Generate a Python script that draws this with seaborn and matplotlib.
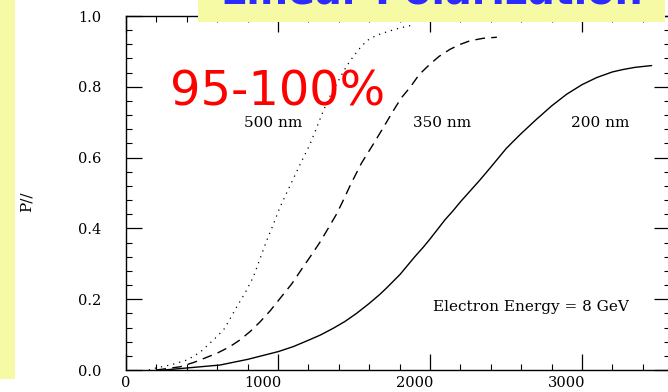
import numpy as np
import pandas as pd
import matplotlib
matplotlib.use("Agg")
import matplotlib.pyplot as plt
import matplotlib.transforms as mtransforms
from matplotlib.patches import Rectangle
import seaborn as sns

# ---- data ----
x_500 = [150, 191, 300, 399, 450, 500, 597, 650, 728, 780, 838, 926, 970, 1013, 1085, 1150, 1211, 1250,
         1298, 1340, 1386, 1430, 1474, 1530, 1583, 1650, 1737, 1800, 1890]
y_500 = [0.0, 0.005, 0.015, 0.028, 0.04, 0.055, 0.094, 0.118, 0.178, 0.215, 0.263, 0.366, 0.412, 0.46, 0.526,
         0.585, 0.638, 0.68, 0.732, 0.772, 0.808, 0.843, 0.873, 0.905, 0.93, 0.946, 0.958, 0.966, 0.975]

x_350 = [200, 355, 450, 597, 680, 750, 820, 882, 950, 1013, 1090, 1156, 1220, 1276, 1330, 1386, 1430, 1480,
         1550, 1627, 1700, 1758, 1810, 1868, 1930, 2000, 2060, 2132, 2200, 2263, 2350, 2440]
y_350 = [0.0, 0.009, 0.022, 0.047, 0.065, 0.085, 0.11, 0.136, 0.168, 0.202, 0.243, 0.285, 0.325, 0.361, 0.40,
         0.441, 0.48, 0.526, 0.585, 0.638, 0.69, 0.732, 0.768, 0.798, 0.835, 0.864, 0.886, 0.906, 0.92, 0.93,
         0.937, 0.94]

x_200 = [250, 618, 800, 1002, 1100, 1189, 1280, 1364, 1440, 1517, 1600, 1671, 1715, 1803, 1900, 1956, 2000,
         2100, 2154, 2200, 2300, 2329, 2400, 2500, 2548, 2600, 2700, 2724, 2800, 2899, 3000, 3096, 3200,
         3272, 3350, 3458]
y_200 = [0.0, 0.014, 0.03, 0.052, 0.066, 0.082, 0.099, 0.118, 0.137, 0.16, 0.188, 0.214, 0.232, 0.27, 0.32,
         0.347, 0.37, 0.425, 0.451, 0.475, 0.523, 0.537, 0.573, 0.625, 0.646, 0.668, 0.708, 0.717, 0.746, 0.779,
         0.806, 0.826, 0.842, 0.849, 0.855, 0.86]

x_ticks = [0, 1000, 2000, 3000]
y_ticks = [0.0, 0.2, 0.4, 0.6, 0.8, 1.0]
y_ticklabels = ["0.0", "0.2", "0.4", "0.6", "0.8", "1.0"]
curve_labels = ["500 nm", "350 nm", "200 nm"]
title_text = "Linear Polarization"
big_text = "95-100%"
energy_text = "Electron Energy = 8 GeV"
ylabel_text = "P//"

sns.set_theme(style="white")
plt.rcParams["font.family"] = ["DejaVu Serif"]

W, H = 668, 392
fig = plt.figure(figsize=(W / 100, H / 100), dpi=100)
fig.patch.set_facecolor("white")

x0, x1 = 126, 670
y0, y1 = 370, 16
ax = fig.add_axes([x0 / W, 1 - y0 / H, (x1 - x0) / W, (y0 - y1) / H])
ax.set_facecolor("white")

sns.lineplot(x=x_500, y=y_500, ax=ax, color="black", lw=0.9, linestyle=(0, (1, 4)), sort=False)
sns.lineplot(x=x_350, y=y_350, ax=ax, color="black", lw=1.0, linestyle=(0, (7, 4.5)), sort=False)
sns.lineplot(x=x_200, y=y_200, ax=ax, color="black", lw=1.0, linestyle="-", sort=False)

ax.set_xlim(0, (x1 - x0) / 152 * 1000)
ax.set_ylim(0, 1.0)
ax.set_xticks(x_ticks)
ax.set_xticklabels([str(v) for v in x_ticks])
ax.set_yticks(y_ticks)
ax.set_yticklabels(y_ticklabels)
ax.set_xticks(np.arange(0, 3600, 200), minor=True)
ax.set_yticks(np.arange(0, 1.001, 0.04), minor=True)
ax.set_xlabel("")
ax.set_ylabel("")

for s in ax.spines.values():
    s.set_color("black")
    s.set_linewidth(1.0)

ax.tick_params(which="both", direction="in", top=True, right=True, bottom=True, left=True, color="black")
ax.tick_params(which="major", length=11.5, width=0.9)
ax.tick_params(which="minor", length=4.5, width=0.8)
ax.tick_params(axis="x", which="major", pad=4, labelsize=10.5, labelcolor="black")
ax.tick_params(axis="y", which="major", pad=18, labelsize=10.5, labelcolor="black")

# x tick labels sit left of their ticks in the original
shift = mtransforms.ScaledTranslation(3 / 100, 0, fig.dpi_scale_trans)
for i, lab in enumerate(ax.get_xticklabels()):
    if i > 0:
        lab.set_horizontalalignment("right")
        lab.set_transform(lab.get_transform() + shift)

# decorations: yellow strip and title box
fig.add_artist(Rectangle((0, 1 - 379 / H), 15 / W, 379 / H, transform=fig.transFigure,
                         facecolor="#f6faa4", edgecolor="none", zorder=5))
fig.add_artist(Rectangle((198 / W, 1 - 22 / H), (665 - 198) / W, 22 / H + 0.01, transform=fig.transFigure,
                         facecolor="#f6faa4", edgecolor="none", zorder=5))
fig.text(221 / W, 1 - 3 / H, title_text, color="#2b2bff", fontsize=28.5, fontweight="bold",
         family="DejaVu Sans", ha="left", va="baseline", zorder=6)

fig.text(170 / W, 1 - 105 / H, big_text, color="#ff0000", fontsize=34.5,
         family="DejaVu Sans", ha="left", va="baseline", zorder=6)

for lab, cx in zip(curve_labels, [273, 442, 600]):
    fig.text(cx / W, 1 - 123 / H, lab, fontsize=11, ha="center", va="center", color="black", zorder=6)

fig.text(531 / W, 1 - 307 / H, energy_text, fontsize=11, ha="center", va="center", color="black", zorder=6)
fig.text(27 / W, 1 - 202 / H, ylabel_text, fontsize=11, rotation=90, ha="center", va="center", color="black")

fig.savefig("out.png", dpi=100)
